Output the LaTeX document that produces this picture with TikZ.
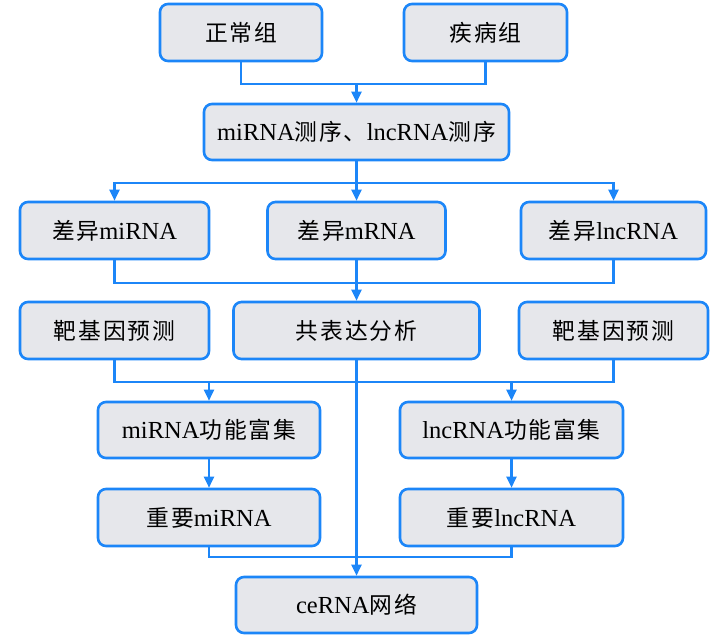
\documentclass[tikz,border=0pt]{standalone}
\usepackage{fontspec}
\setmainfont{Liberation Serif}
\newfontfamily\cjk{Noto Sans CJK SC}[Scale=0.93,LetterSpace=8]
\usetikzlibrary{arrows.meta}
\definecolor{bblue}{RGB}{28,134,248}
\definecolor{bfill}{RGB}{230,231,235}
\tikzset{
  box/.style={draw=bblue, fill=bfill, line width=2.6pt, rounded corners=8pt,
    inner sep=0pt, align=center, font=\fontsize{24.5}{28}\selectfont},
  conn/.style={draw=bblue, line width=2.3pt},
  arr/.style={conn, -{Triangle[length=11pt,width=10pt]}},
}
\begin{document}
\begin{tikzpicture}[x=1pt,y=-1pt]
\useasboundingbox (0,0) rectangle (714,641);
% row 1
\node[box, minimum width=162pt, minimum height=57pt] (n1) at (241,32.5) {\cjk 正常组};
\node[box, minimum width=163pt, minimum height=57pt] (n2) at (485.5,32.5) {\cjk 疾病组};
% row 2
\node[box, minimum width=305pt, minimum height=56pt] (seq) at (356.5,132) {miRNA{\cjk 测序、}lncRNA{\cjk 测序}};
% row 3
\node[box, minimum width=189pt, minimum height=57pt] (d1) at (114.5,230.5) {{\cjk 差异}miRNA};
\node[box, minimum width=178pt, minimum height=57pt] (d2) at (356.5,230.5) {{\cjk 差异}mRNA};
\node[box, minimum width=185pt, minimum height=57pt] (d3) at (613.5,230.5) {{\cjk 差异}lncRNA};
% row 4
\node[box, minimum width=189pt, minimum height=57pt] (t1) at (114.5,330.5) {\cjk 靶基因预测};
\node[box, minimum width=246pt, minimum height=57pt] (co) at (356.5,330.5) {\cjk 共表达分析};
\node[box, minimum width=189pt, minimum height=57pt] (t2) at (613.5,330.5) {\cjk 靶基因预测};
% row 5
\node[box, minimum width=222pt, minimum height=56pt] (f1) at (209,430) {miRNA{\cjk 功能富集}};
\node[box, minimum width=223pt, minimum height=56pt] (f2) at (511.5,430) {lncRNA{\cjk 功能富集}};
% row 6
\node[box, minimum width=222pt, minimum height=57pt] (i1) at (209,517.5) {{\cjk 重要}miRNA};
\node[box, minimum width=223pt, minimum height=57pt] (i2) at (511.5,517.5) {{\cjk 重要}lncRNA};
% row 7
\node[box, minimum width=241pt, minimum height=56pt] (ce) at (356.5,605) {ceRNA{\cjk 网络}};
% junctions
\coordinate (j1) at (356.5,84);
\coordinate (j2) at (356.5,183);
\coordinate (j3) at (356.5,283);
\coordinate (j4) at (356.5,382);
\coordinate (j5) at (356.5,557);
% connectors
\draw[conn] (n1.south) |- (j1) -| (n2.south);
\draw[arr] (j1) -- (seq.north);
\draw[arr] (seq.south) -- (d2.north);
\draw[arr] (j2) -| (d1.north);
\draw[arr] (j2) -| (d3.north);
\draw[conn] (d1.south) |- (j3) -| (d3.south);
\draw[arr] (d2.south) -- (co.north);
\draw[conn] (t1.south) |- (j4) -| (t2.south);
\draw[arr] (f1.north |- j4) -- (f1.north);
\draw[arr] (f2.north |- j4) -- (f2.north);
\draw[arr] (f1.south) -- (i1.north);
\draw[arr] (f2.south) -- (i2.north);
\draw[conn] (i1.south) |- (j5) -| (i2.south);
\draw[arr] (co.south) -- (ce.north);
\end{tikzpicture}
\end{document}
